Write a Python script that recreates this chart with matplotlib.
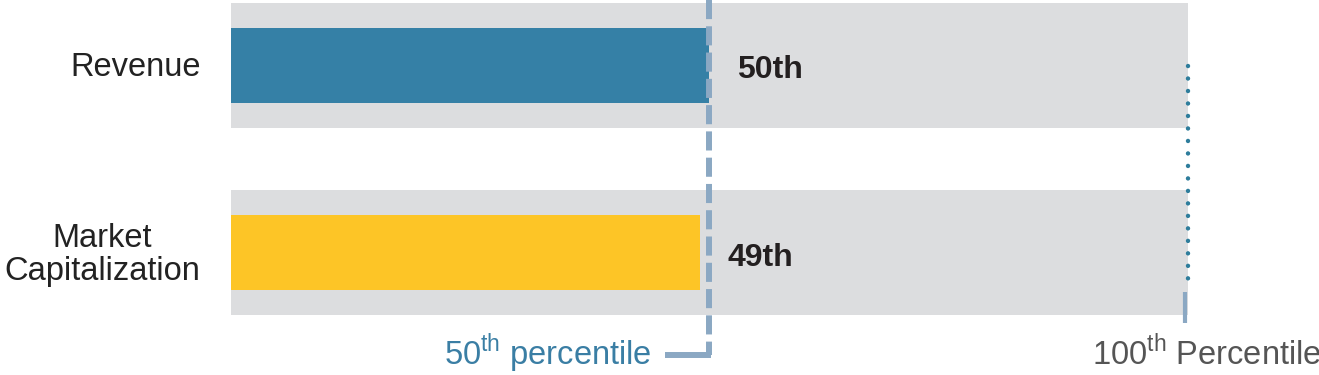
import matplotlib.pyplot as plt

plt.rcParams['font.family'] = ['Liberation Sans', 'DejaVu Sans']
plt.rcParams['mathtext.fontset'] = 'custom'
plt.rcParams['mathtext.rm'] = 'Liberation Sans'

# data
categories = ['Revenue', 'Market\nCapitalization']
percentiles = [50, 49]
value_labels = ['50th', '49th']
bar_colors = ['#3580A6', '#FDC526']

track_color = '#DCDDDF'
dash_color = '#8BA8C3'
dot_color = '#2E7D9C'

fig = plt.figure(figsize=(13.19, 3.75), dpi=100)
ax = fig.add_axes([231 / 1319, 0, 956.5 / 1319, 1])
ax.set_xlim(0, 100)
ax.set_ylim(1.651, -0.349)
ax.axis('off')

ypos = list(range(len(categories)))

# full-width background tracks and the actual bars
ax.barh(ypos, [100] * len(ypos), height=0.667, color=track_color, left=0)
ax.barh(ypos, percentiles, height=0.4, color=bar_colors)

for y, p, lab in zip(ypos, percentiles, value_labels):
    ax.annotate(lab, (p, y + 0.025), xytext=(28, 0), textcoords='offset pixels',
                ha='left', va='center', fontsize=23, fontweight='bold',
                color='#231F20')

for y, cat in zip(ypos, categories):
    ax.text(-3.2, y + 0.01, cat, ha='right', va='center', fontsize=23.5,
            color='#222222', multialignment='center', linespacing=1.08,
            clip_on=False)

# 50th percentile marker
ax.plot([50, 50], [-0.349, 1.544], color=dash_color, lw=4.3,
        linestyle=(0, (3.2, 1.2)), dash_capstyle='butt', clip_on=False)
ax.plot([50.2, 45.4], [1.544, 1.544], color=dash_color, lw=4.3,
        solid_capstyle='butt', clip_on=False)
ax.text(44.0, 1.535, '50$^{\\mathrm{th}}$ percentile', ha='right',
        va='center', fontsize=23.5, color='#3A7EA4', clip_on=False)

# 100th percentile marker
ax.plot([100, 100], [0.003, 1.197], color=dot_color, lw=3.2,
        linestyle=(0, (0.01, 2.8)), dash_capstyle='round', clip_on=False)
ax.plot([99.75, 99.75], [1.208, 1.373], color=dash_color, lw=3,
        solid_capstyle='butt', clip_on=False)
ax.text(90.0, 1.535, '100$^{\\mathrm{th}}$ Percentile', ha='left',
        va='center', fontsize=23.5, color='#555555', clip_on=False)

fig.savefig('out.png', dpi=100)
